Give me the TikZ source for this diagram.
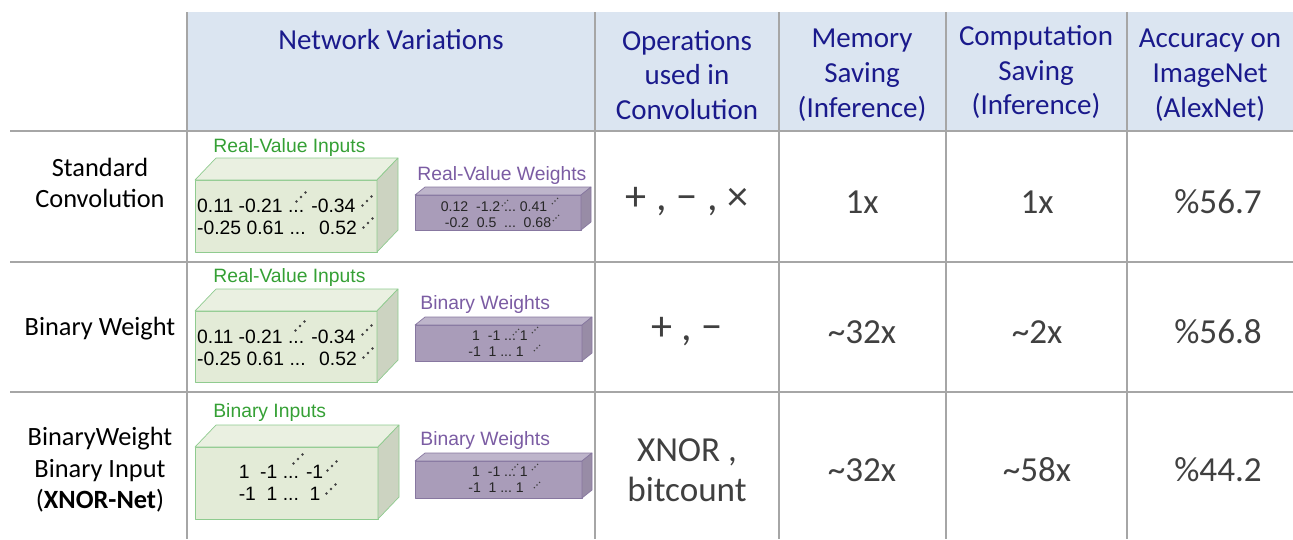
\documentclass[tikz,border=0pt]{standalone}
\usepackage{fontspec}
\setmainfont{Carlito}
\newfontfamily\arialfont{Liberation Sans}
\usetikzlibrary{positioning}
\definecolor{rule}{HTML}{A6A6A6}
\definecolor{headfill}{HTML}{DBE5F1}
\definecolor{headtext}{HTML}{1A1A8C}
\definecolor{valtext}{HTML}{404040}
\definecolor{inpedge}{HTML}{8FCB8F}
\definecolor{inpfill}{HTML}{E3EBD7}
\definecolor{inplabel}{HTML}{35A035}
\definecolor{wgtedge}{HTML}{8777A0}
\definecolor{wgtfill}{HTML}{A99CB9}
\definecolor{wgtlabel}{HTML}{7B5CA3}
% box: x, y, width, height, depth x, depth y, colour prefix
\newcommand{\tensorbox}[7]{%
  \filldraw[draw=#7edge, fill=#7fill, line join=round] (#1,#2) rectangle ++(#3,#4);
  \filldraw[draw=#7edge, fill=#7fill!75!white, line join=round] (#1,#2) -- ++(#5,-#6) -- ++(#3,0) -- ++(-#5,#6) -- cycle;
  \filldraw[draw=#7edge, fill=#7fill!90!black, line join=round] (#1+#3,#2) -- ++(#5,-#6) -- ++(0,#4) -- ++(-#5,#6) -- cycle;}
% three dots going into depth
\newcommand{\depthdots}[4]{%
  \foreach \i in {-1,0,1} {\fill[black!75] (#1+\i*#3, #2-\i*#3) circle (#4);}}

\begin{document}
\begin{tikzpicture}[x=0.02cm, y=-0.02cm,
    gridline/.style={draw=rule, line width=1.2pt},
    head/.style={text=headtext, font=\fontsize{16.5}{19.8}\selectfont, align=center},
    rowlab/.style={font=\fontsize{15}{18}\selectfont, align=center},
    val/.style={text=valtext, font=\fontsize{20}{22.7}\selectfont, align=center},
    inlabel/.style={text=inplabel, font=\arialfont\fontsize{11}{13}\selectfont, anchor=west, inner sep=0},
    wlabel/.style={text=wgtlabel, font=\arialfont\fontsize{11}{13}\selectfont, anchor=west, inner sep=0},
    bignums/.style={font=\arialfont\fontsize{11}{12.5}\selectfont, align=left, inner sep=0},
    smallnums/.style={text=black!85, font=\arialfont\fontsize{8}{9}\selectfont, align=left, inner sep=0}]
  \useasboundingbox (0,0) rectangle (1293,539);

  % header band and grid
  \fill[headfill] (187,12) rectangle (1293,131);
  \foreach \y in {131,262,392} \draw[gridline] (10,\y) -- (1293,\y);
  \foreach \x in {187,595,779,946,1127} \draw[gridline] (\x,12) -- (\x,539);

  % header
  \node[head] (hnet) at (391,40) {Network Variations};
  \node[head] (hops) at (687,75) {Operations\\used in\\Convolution};
  \node[head] (hmem) at (862,75) {Memory\\Saving\\(Inference)};
  \node[head] (hcomp) at (1036,72) {Computation\\Saving\\(Inference)};
  \node[head] (hacc) at (1210,75) {Accuracy on\\ImageNet\\(AlexNet)};

  % row labels
  \node[rowlab] (rstd) at (100,183) {Standard\\Convolution};
  \node[rowlab] (rbw) at (100,329) {Binary Weight};
  \node[rowlab] (rxnor) at (100,470) {BinaryWeight\\Binary Input\\(\textbf{XNOR-Net})};

  % values
  \foreach \y/\o/\m/\c/\a [count=\r] in {202/{\fontsize{24}{26}\selectfont + , − , ×}/1x/1x/\%56.7,
      332/{\fontsize{24}{26}\selectfont + , −}/\textasciitilde32x/\textasciitilde2x/\%56.8,
      470/{XNOR ,\\bitcount}/\textasciitilde32x/\textasciitilde58x/\%44.2}
    { \node[val] (ops\r) at (687,\y) {\o};
      \node[val] (mem\r) at (862,\y) {\m};
      \node[val] (comp\r) at (1037,\y) {\c};
      \node[val] (acc\r) at (1218,\y) {\a}; }

  % inputs
  \tensorbox{195}{180}{182}{72}{21}{22}{inp}
  \tensorbox{195}{311}{182}{71}{21}{22}{inp}
  \tensorbox{195}{447}{183}{72}{21}{22}{inp}
  \node[inlabel] (in1) at (213,147) {Real-Value Inputs};
  \node[inlabel] (in2) at (213,277) {Real-Value Inputs};
  \node[inlabel] (in3) at (213,412) {Binary Inputs};
  \node[bignums] (innum1) at (277,217) {0.11 -0.21 ... -0.34\\-0.25 0.61 ... \hphantom{-}0.52};
  \node[bignums] (innum2) at (277,348) {0.11 -0.21 ... -0.34\\-0.25 0.61 ... \hphantom{-}0.52};
  \node[bignums] (innum3) at (281,483) {1\ \ -1 ... -1\\-1\ \ 1 ...\ \ 1};
  \foreach \dx/\dy in {301/197, 367/201, 368/223, 300/326, 367/330, 368/353, 298/459, 332/466, 331/489}
    {\depthdots{\dx}{\dy}{4.5}{1.3}}

  % weights
  \tensorbox{415}{195}{166}{35}{10}{8}{wgt}
  \tensorbox{415}{325}{167}{36}{10}{8}{wgt}
  \tensorbox{415}{461}{167}{37}{10}{8}{wgt}
  \node[wlabel] (w1) at (417,175) {Real-Value Weights};
  \node[wlabel] (w2) at (420,304) {Binary Weights};
  \node[wlabel] (w3) at (420,440) {Binary Weights};
  \node[smallnums] (wnum1) at (496,215) {0.12\ \ -1.2 ...\ 0.41\\\ -0.2\ \ 0.5\ \ ...\ \ 0.68};
  \node[smallnums] (wnum2) at (498,344) {\ 1\ \ -1 ...\ 1\\-1\ \ 1 ...\ 1};
  \node[smallnums] (wnum3) at (498,480) {\ 1\ \ -1 ...\ 1\\-1\ \ 1 ...\ 1};
  \foreach \dx/\dy in {505/203, 555/201, 556/218, 516/332, 535/330, 537/348, 515/467, 535/467, 537/485}
    {\depthdots{\dx}{\dy}{2.6}{0.8}}
\end{tikzpicture}
\end{document}
